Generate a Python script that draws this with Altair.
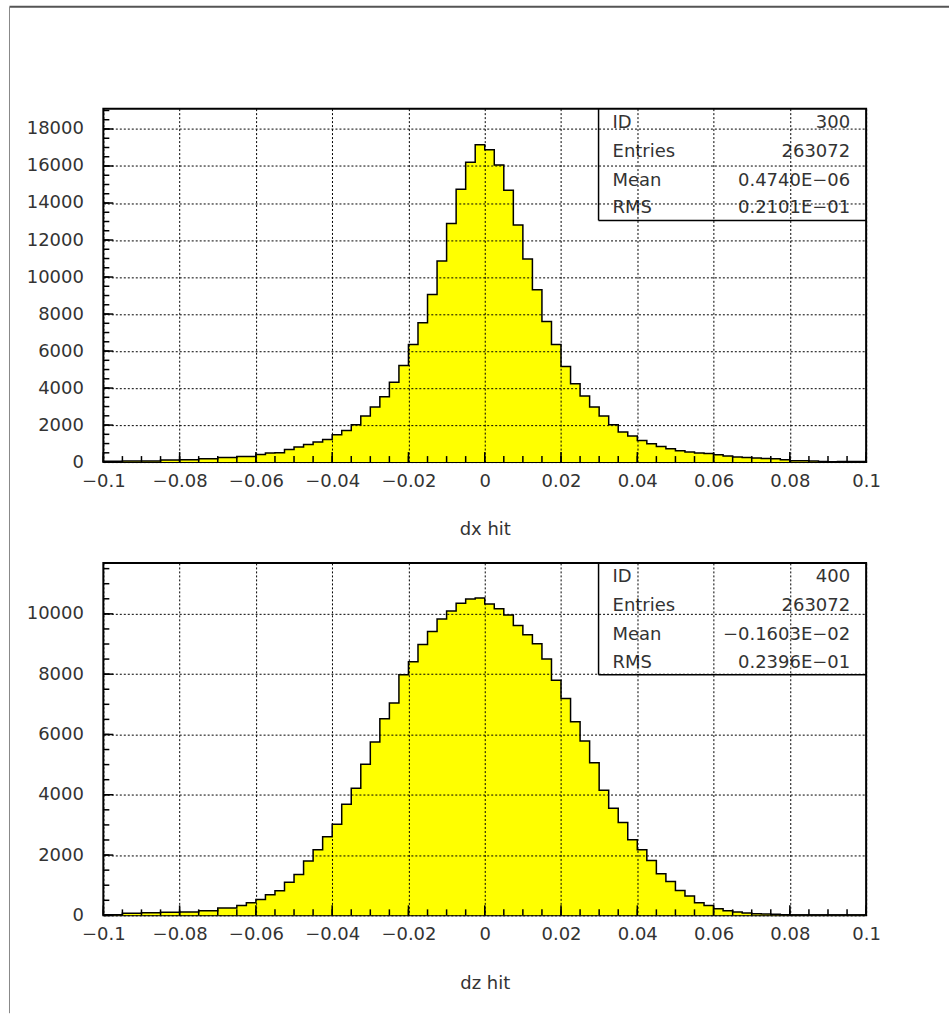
import altair as alt
import numpy as np
import pandas as pd

# ---------------- data ----------------
x_min, x_max, n_bins = -0.1, 0.1, 80
edges = [round(v, 4) for v in np.linspace(x_min, x_max, n_bins + 1)]

dx_counts = [
    40, 40, 54, 54, 54, 54, 108, 108, 126, 126,
    180, 180, 252, 252, 306, 306, 414, 486, 504, 684,
    810, 954, 1080, 1224, 1476, 1710, 2016, 2484, 2970, 3528,
    4320, 5220, 6354, 7524, 9054, 10872, 12888, 14742, 16200, 17154,
    16884, 16056, 14688, 12816, 10980, 9306, 7596, 6354, 5166, 4230,
    3564, 2970, 2484, 2016, 1620, 1404, 1170, 990, 846, 720,
    612, 540, 486, 468, 396, 324, 270, 252, 216, 198,
    180, 126, 72, 72, 54, 36, 18, 30, 30, 30,
]
dz_counts = [
    22, 22, 66, 66, 88, 88, 99, 99, 110, 110,
    154, 154, 242, 242, 330, 418, 528, 682, 815, 1101,
    1354, 1806, 2180, 2609, 3025, 3688, 4217, 5010, 5747, 6518,
    7046, 7982, 8412, 8984, 9413, 9832, 10096, 10349, 10493, 10525,
    10328, 10172, 9964, 9612, 9304, 9006, 8500, 7795, 7190, 6419,
    5780, 5065, 4151, 3556, 3083, 2510, 2180, 1817, 1376, 1123,
    826, 639, 418, 330, 220, 154, 110, 77, 55, 44,
    33, 22, 11, 11, 11, 11, 11, 11, 11, 11,
]

x_labels = [-0.1, -0.08, -0.06, -0.04, -0.02, 0, 0.02, 0.04, 0.06, 0.08, 0.1]
x_minor = [round(v, 4) for v in np.arange(-0.1, 0.10001, 0.005)]

dx_y_labels = list(range(0, 18001, 2000))
dz_y_labels = list(range(0, 10001, 2000))
dx_y_max = 19100
dz_y_max = 11690

dx_stats_names = ["ID", "Entries", "Mean", "RMS"]
dx_stats_values = ["300", "263072", "0.4740E\u221206", "0.2101E\u221201"]
dz_stats_names = ["ID", "Entries", "Mean", "RMS"]
dz_stats_values = ["400", "263072", "\u22120.1603E\u221202", "0.2396E\u221201"]

FONT = "DejaVu Sans"
FS = 18
TXT = "#333333"
FW = "normal"
W = 764


def panel(counts, y_max, y_labels, title, names, values, height, frame=False):
    df = pd.DataFrame({"x": edges, "n": counts + [counts[-1]]})
    xs = alt.Scale(domain=[x_min, x_max], nice=False, zero=False)
    ys = alt.Scale(domain=[0, y_max], nice=False)

    x_axis = alt.Axis(
        values=x_labels, format=".2~f", grid=True, gridDash=[2, 2], gridColor="#000",
        gridWidth=1, gridOpacity=1, domain=False, ticks=False, tickSize=0,
        labelPadding=10, labelFlush=False, labelOverlap=False, labelFont=FONT,
        labelFontSize=FS, labelColor=TXT, labelFontWeight=FW, title=title,
        titleFont=FONT, titleFontSize=FS, titleColor=TXT, titleFontWeight=FW,
        titlePadding=31, zindex=1,
    )
    y_axis = alt.Axis(
        values=y_labels, format="d", grid=True, gridDash=[2, 2], gridColor="#000",
        gridWidth=1, gridOpacity=1, domain=False, ticks=False, tickSize=0,
        labelPadding=20, labelFlush=False, labelOverlap=False, labelFont=FONT,
        labelFontSize=FS, labelColor=TXT, labelFontWeight=FW, title=None, zindex=1,
    )

    hist = alt.Chart(df).mark_area(
        interpolate="step-after", color="#ffff00", opacity=1, fillOpacity=1,
        line=alt.OverlayMarkDef(color="#000", strokeWidth=1.5),
    ).encode(
        x=alt.X("x:Q", scale=xs, axis=x_axis),
        y=alt.Y("n:Q", scale=ys, axis=y_axis),
    )

    y_minor_vals = list(range(0, int(y_max) + 1, 500))
    y_major_vals = list(range(0, int(y_max) + 1, 2000))
    x_major_vals = x_labels

    ymin_t = alt.Chart(pd.DataFrame({"n": y_minor_vals})).mark_rule(color="#000", strokeWidth=1.5).encode(
        y=alt.Y("n:Q", scale=ys, axis=y_axis), x=alt.value(0), x2=alt.value(6))
    ymaj_t = alt.Chart(pd.DataFrame({"n": y_major_vals})).mark_rule(color="#000", strokeWidth=1.5).encode(
        y=alt.Y("n:Q", scale=ys, axis=y_axis), x=alt.value(0), x2=alt.value(10))
    xmin_t = alt.Chart(pd.DataFrame({"x": x_minor})).mark_rule(color="#000", strokeWidth=1.5).encode(
        x=alt.X("x:Q", scale=xs, axis=x_axis), y=alt.value(height), y2=alt.value(height - 6))
    xmaj_t = alt.Chart(pd.DataFrame({"x": x_major_vals})).mark_rule(color="#000", strokeWidth=1.5).encode(
        x=alt.X("x:Q", scale=xs, axis=x_axis), y=alt.value(height), y2=alt.value(height - 10))

    one = pd.DataFrame({"a": [0]})
    box_l = alt.Chart(one).mark_rule(color="#000", strokeWidth=1.5).encode(
        x=alt.value(496), y=alt.value(0), y2=alt.value(112))
    box_b = alt.Chart(one).mark_rule(color="#000", strokeWidth=1.5).encode(
        x=alt.value(496), x2=alt.value(W), y=alt.value(112))

    layers = [hist, ymin_t, ymaj_t, xmin_t, xmaj_t, box_l, box_b]
    row_y = [14, 43, 72, 100]
    for i, (nm, val) in enumerate(zip(names, values)):
        tdf = pd.DataFrame({"label": [nm], "value": [val]})
        layers.append(alt.Chart(tdf).mark_text(
            align="left", baseline="middle", font=FONT, fontSize=FS, color=TXT, fontWeight=FW
        ).encode(x=alt.value(510), y=alt.value(row_y[i]), text="label:N"))
        layers.append(alt.Chart(tdf).mark_text(
            align="right", baseline="middle", font=FONT, fontSize=FS, color=TXT, fontWeight=FW
        ).encode(x=alt.value(748), y=alt.value(row_y[i]), text="value:N"))

    if frame:
        layers.append(alt.Chart(one).mark_rule(color="#555", strokeWidth=2).encode(
            x=alt.value(-94), x2=alt.value(847), y=alt.value(-102)))
        layers.append(alt.Chart(one).mark_rule(color="#888", strokeWidth=1).encode(
            x=alt.value(-94), y=alt.value(-102), y2=alt.value(906)))

    return alt.layer(*layers).properties(width=W, height=height)


p1 = panel(dx_counts, dx_y_max, dx_y_labels, "dx hit",
           dx_stats_names, dx_stats_values, 354, frame=True)
p2 = panel(dz_counts, dz_y_max, dz_y_labels, "dz hit",
           dz_stats_names, dz_stats_values, 353)

chart = alt.vconcat(p1, p2, spacing=101).properties(
    bounds="flush",
    padding={"left": 7.5, "top": 4, "right": 0, "bottom": 0},
    background="white",
).configure_view(stroke="#000", strokeWidth=2)

chart.save("out.html", embed_options={"renderer": "svg", "actions": False})
